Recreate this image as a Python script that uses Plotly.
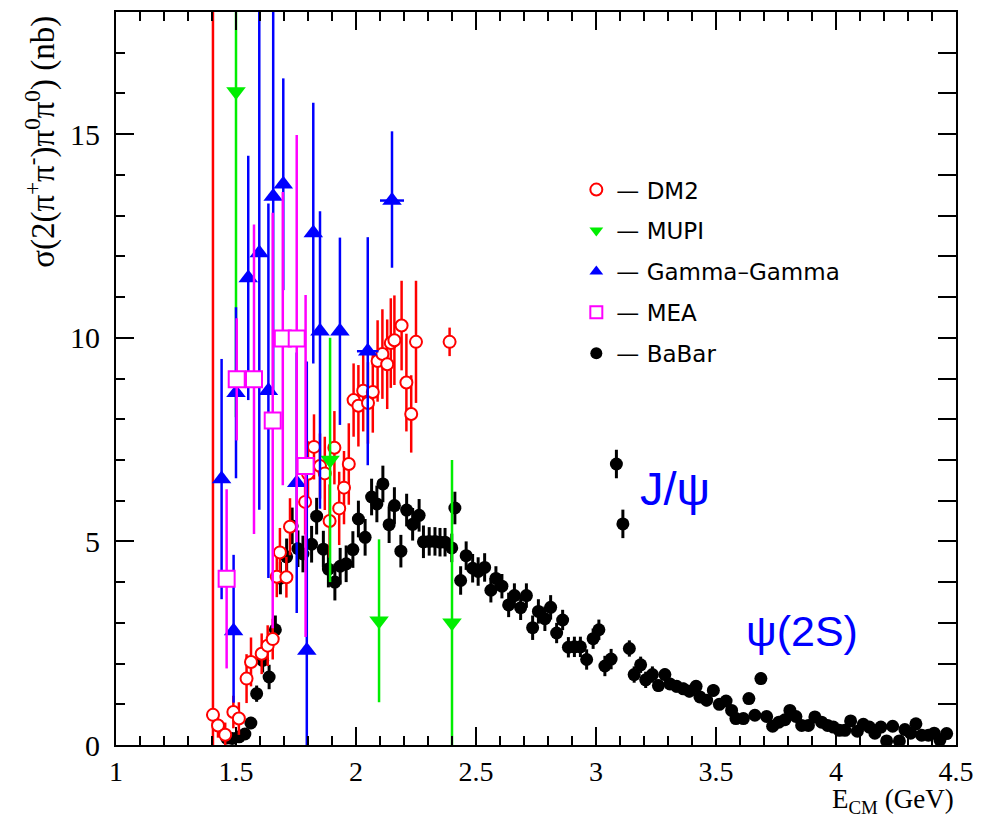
import plotly.graph_objects as go

# ---------------- data ----------------
babar_x = [1.461, 1.484, 1.513, 1.537, 1.562, 1.586, 1.611, 1.638, 1.664, 1.685,
           1.711, 1.734, 1.758, 1.779, 1.815, 1.836, 1.864, 1.885, 1.912, 1.934,
           1.959, 1.987, 2.010, 2.038, 2.065, 2.087, 2.112, 2.138, 2.160, 2.187,
           2.211, 2.236, 2.263, 2.281, 2.305, 2.329, 2.350, 2.371, 2.399, 2.412,
           2.436, 2.459, 2.486, 2.509, 2.536, 2.562, 2.583, 2.608, 2.636, 2.660,
           2.686, 2.710, 2.736, 2.760, 2.787, 2.811, 2.836, 2.861, 2.885, 2.910,
           2.935, 2.961, 2.988, 3.012, 3.037, 3.063, 3.085, 3.112, 3.139, 3.159,
           3.186, 3.207, 3.235, 3.260, 3.287, 3.308, 3.336, 3.364, 3.389, 3.417,
           3.433, 3.461, 3.489, 3.514, 3.542, 3.565, 3.583, 3.614, 3.637, 3.662,
           3.687, 3.711, 3.736, 3.762, 3.787, 3.808, 3.833, 3.857, 3.885, 3.912,
           3.940, 3.965, 3.989, 4.014, 4.037, 4.061, 4.089, 4.114, 4.139, 4.162,
           4.187, 4.211, 4.236, 4.264, 4.287, 4.311, 4.333, 4.357, 4.385, 4.409,
           4.433, 4.461]
babar_y = [0.17, 0.16, 0.20, 0.27, 0.54, 1.26, 2.08, 1.67, 2.83, 4.10,
           4.62, 5.38, 4.82, 4.69, 4.93, 5.62, 4.81, 4.32, 4.00, 4.39,
           4.45, 4.80, 5.55, 5.10, 6.09, 5.92, 6.41, 5.41, 5.88, 4.76,
           5.77, 5.42, 5.64, 4.99, 5.00, 5.00, 4.98, 4.98, 4.84, 5.82,
           4.04, 4.65, 4.34, 4.26, 4.36, 3.80, 4.09, 3.90, 3.44, 3.67,
           3.37, 3.67, 2.88, 3.28, 3.10, 3.38, 2.75, 3.07, 2.40, 2.41,
           2.41, 2.10, 2.61, 2.83, 1.94, 2.11, 6.90, 5.43, 2.37, 1.73,
           1.97, 1.60, 1.73, 1.46, 1.73, 1.50, 1.44, 1.38, 1.32, 1.44,
           1.18, 1.10, 1.34, 1.00, 1.08, 0.85, 0.65, 0.65, 1.14, 0.73,
           1.63, 0.70, 0.46, 0.56, 0.62, 0.85, 0.70, 0.48, 0.48, 0.69,
           0.56, 0.48, 0.44, 0.36, 0.36, 0.59, 0.34, 0.51, 0.44, 0.29,
           0.44, 0.10, 0.46, 0.10, 0.38, 0.29, 0.52, 0.24, 0.24, 0.29,
           0.12, 0.28]
babar_err = [0.08, 0.08, 0.10, 0.10, 0.15, 0.20, 0.30, 0.30, 0.35, 0.40,
             0.45, 0.45, 0.45, 0.45, 0.45, 0.45, 0.45, 0.45, 0.45, 0.45,
             0.45, 0.45, 0.45, 0.45, 0.45, 0.45, 0.45, 0.45, 0.45, 0.40,
             0.40, 0.40, 0.40, 0.40, 0.35, 0.35, 0.35, 0.35, 0.35, 0.40,
             0.35, 0.35, 0.35, 0.35, 0.35, 0.30, 0.30, 0.30, 0.30, 0.30,
             0.30, 0.30, 0.30, 0.30, 0.30, 0.30, 0.25, 0.25, 0.25, 0.25,
             0.25, 0.25, 0.25, 0.25, 0.25, 0.25, 0.35, 0.35, 0.20, 0.20,
             0.20, 0.20, 0.20, 0.15, 0.15, 0.15, 0.15, 0.15, 0.15, 0.15,
             0.15, 0.15, 0.15, 0.12, 0.12, 0.12, 0.12, 0.12, 0.12, 0.12,
             0.15, 0.10, 0.10, 0.10, 0.10, 0.10, 0.10, 0.10, 0.10, 0.10,
             0.10, 0.10, 0.10, 0.10, 0.10, 0.10, 0.10, 0.10, 0.10, 0.10,
             0.10, 0.10, 0.10, 0.10, 0.10, 0.10, 0.10, 0.10, 0.10, 0.10,
             0.10, 0.10]

dm2_x = [1.404, 1.425, 1.455, 1.489, 1.512, 1.544, 1.5625, 1.607, 1.632, 1.653,
         1.670, 1.683, 1.710, 1.725, 1.788, 1.800, 1.825, 1.850, 1.870, 1.890,
         1.910, 1.930, 1.950, 1.970, 1.990, 2.010, 2.030, 2.050, 2.070, 2.090,
         2.110, 2.130, 2.145, 2.160, 2.190, 2.210, 2.230, 2.250, 2.390]
dm2_y = [0.74, 0.48, 0.25, 0.81, 0.65, 1.63, 2.04, 2.24, 2.44, 2.60,
         4.13, 4.73, 4.12, 5.36, 5.97, 6.66, 7.32, 6.85, 6.67, 5.50,
         7.30, 5.81, 6.32, 6.90, 8.47, 8.33, 8.70, 8.40, 8.67, 9.43,
         9.60, 9.35, 9.87, 9.94, 10.30, 8.90, 8.13, 9.90, 9.90]
dm2_err = [20.0, 0.30, 0.30, 0.40, 0.40, 0.60, 0.60, 0.50, 0.50, 0.50,
           0.50, 0.60, 0.50, 0.70, 0.80, 0.80, 0.80, 0.80, 0.90, 0.90,
           0.90, 0.90, 0.90, 1.00, 0.90, 1.00, 1.00, 1.00, 1.00, 1.00,
           1.10, 1.10, 1.10, 1.10, 1.10, 1.20, 0.95, 1.50, 0.35]

mupi_x = [1.500, 1.892, 2.096, 2.400]
mupi_y = [16.05, 7.00, 3.05, 3.00]
mupi_err = [8.0, 3.0, 2.0, 4.0]

gg_x = [1.440, 1.490, 1.500, 1.551, 1.597, 1.635, 1.655, 1.697, 1.753, 1.795,
        1.822, 1.850, 1.933, 2.049, 2.150]
gg_y = [6.53, 2.80, 8.65, 11.47, 12.08, 8.70, 13.47, 13.77, 6.44, 2.32,
        12.57, 10.16, 10.16, 9.67, 13.37]
gg_eplus = [2.95, 1.87, 2.10, 3.00, 6.40, 4.60, 4.80, 2.60, 3.20, 7.10,
            3.20, 2.95, 2.30, 2.80, 1.70]
gg_eminus = [2.95, 1.76, 2.10, 3.00, 6.30, 4.60, 4.80, 2.60, 3.20, 2.32,
             3.20, 4.36, 2.30, 2.80, 1.65]
gg_xerr = [0, 0, 0, 0, 0, 0, 0, 0, 0, 0, 0, 0, 0, 0.045, 0.05]

mea_x = [1.461, 1.503, 1.575, 1.653, 1.695, 1.753, 1.790]
mea_y = [4.08, 8.98, 8.98, 7.97, 9.98, 9.98, 6.85]
mea_err = [2.2, 1.5, 3.8, 5.1, 3.6, 5.0, 4.2]
mea_xerr = [0, 0.025, 0.025, 0, 0, 0, 0]

x_ticks = [1, 1.5, 2, 2.5, 3, 3.5, 4, 4.5]
x_ticklabels = ["1", "1.5", "2", "2.5", "3", "3.5", "4", "4.5"]
y_ticks = [0, 5, 10, 15]
y_ticklabels = ["0", "5", "10", "15"]

RED = "#ff0000"
GREEN = "#00ee00"
BLUE = "#0000ff"
MAG = "#ff00ff"

fig = go.Figure()

fig.add_trace(go.Scatter(
    x=babar_x, y=babar_y, mode="markers", name="\u2014 BaBar",
    marker=dict(symbol="circle", size=13, color="black"),
    error_y=dict(type="data", array=babar_err, color="black", thickness=3, width=0),
    legendrank=5, legendgroup="e"))

fig.add_trace(go.Scatter(
    x=dm2_x, y=dm2_y, mode="markers", name="\u2014 DM2",
    marker=dict(symbol="circle", size=12, color="white", line=dict(color=RED, width=2)),
    error_y=dict(type="data", array=dm2_err, color=RED, thickness=2.5, width=0),
    legendrank=1, legendgroup="a"))

fig.add_trace(go.Scatter(
    x=mupi_x, y=mupi_y, mode="markers", name="\u2014 MUPI",
    marker=dict(symbol="triangle-down", size=17, color=GREEN),
    error_y=dict(type="data", array=mupi_err, color=GREEN, thickness=2.5, width=0),
    legendrank=2, legendgroup="b"))

fig.add_trace(go.Scatter(
    x=gg_x, y=gg_y, mode="markers", name="\u2014 Gamma\u2013Gamma",
    marker=dict(symbol="triangle-up", size=17, color=BLUE),
    error_y=dict(type="data", symmetric=False, array=gg_eplus, arrayminus=gg_eminus,
                 color=BLUE, thickness=2.5, width=0),
    error_x=dict(type="data", array=gg_xerr, color=BLUE, thickness=2.5, width=0),
    legendrank=3, legendgroup="c"))

fig.add_trace(go.Scatter(
    x=mea_x, y=mea_y, mode="markers", name="\u2014 MEA",
    marker=dict(symbol="square", size=16, color="white", line=dict(color=MAG, width=2)),
    error_y=dict(type="data", array=mea_err, color=MAG, thickness=2.5, width=0),
    error_x=dict(type="data", array=mea_xerr, color=MAG, thickness=2.5, width=0),
    legendrank=4, legendgroup="d"))

# invisible trace to materialise the right-hand tick axis
fig.add_trace(go.Scatter(x=[None], y=[None], yaxis="y2", showlegend=False, hoverinfo="skip"))

xaxis_font = dict(family="Liberation Serif", size=28, color="black")
yaxis_font = dict(family="Liberation Serif", size=30, color="black")

fig.update_layout(
    width=996, height=817,
    margin=dict(l=116, r=40, t=10, b=72),
    paper_bgcolor="white", plot_bgcolor="white",
    showlegend=True,
    legend=dict(x=0.548, y=0.787, xanchor="left", yanchor="top",
                font=dict(family="DejaVu Sans", size=23, color="black"),
                tracegroupgap=8, bgcolor="rgba(0,0,0,0)", traceorder="grouped",
                itemsizing="constant"),
    xaxis=dict(range=[1, 4.5], tickmode="array", tickvals=x_ticks, ticktext=x_ticklabels,
               ticks="inside", ticklen=18, tickwidth=2, tickcolor="black",
               showline=True, linewidth=2, linecolor="black", mirror="ticks",
               showgrid=False, zeroline=False, tickfont=xaxis_font, ticklabelstandoff=0,
               minor=dict(dtick=0.1, tick0=1, ticks="inside", ticklen=9, tickwidth=2,
                          tickcolor="black", showgrid=False)),
    yaxis=dict(range=[0, 18], tickmode="array", tickvals=y_ticks, ticktext=y_ticklabels,
               ticks="inside", ticklen=18, tickwidth=2, tickcolor="black",
               showline=True, linewidth=2, linecolor="black", mirror=True,
               showgrid=False, zeroline=False, tickfont=yaxis_font, ticklabelstandoff=8,
               minor=dict(dtick=1, tick0=0, ticks="inside", ticklen=9, tickwidth=2,
                          tickcolor="black", showgrid=False)),
    yaxis2=dict(range=[0, 18], overlaying="y", side="right", tickmode="linear", tick0=0, dtick=1,
                ticks="inside", ticklen=18, tickwidth=2, tickcolor="black",
                showticklabels=False, showline=False, showgrid=False, zeroline=False),
)

fig.add_annotation(
    text="\u03c3(2(\u03c0<sup>+</sup>\u03c0<sup>-</sup>)\u03c0<sup>0</sup>\u03c0<sup>0</sup>) (nb)",
    xref="paper", yref="paper", x=-0.090, y=0.998, xanchor="center", yanchor="top",
    textangle=-90, showarrow=False,
    font=dict(family="Liberation Serif", size=33, color="black"))

fig.add_annotation(
    text="E<sub>CM</sub> (GeV)", xref="paper", yref="paper", x=1.0, y=-0.0765,
    xanchor="right", yanchor="middle", showarrow=False,
    font=dict(family="Liberation Serif", size=27, color="black"))

fig.add_annotation(text="J/\u03c8", x=3.33, y=6.29, showarrow=False,
                   font=dict(family="Liberation Sans", size=47, color=BLUE))
fig.add_annotation(text="\u03c8(2S)", x=3.858, y=2.81, showarrow=False,
                   font=dict(family="Liberation Sans", size=43, color=BLUE))

fig.write_html("out.html")
